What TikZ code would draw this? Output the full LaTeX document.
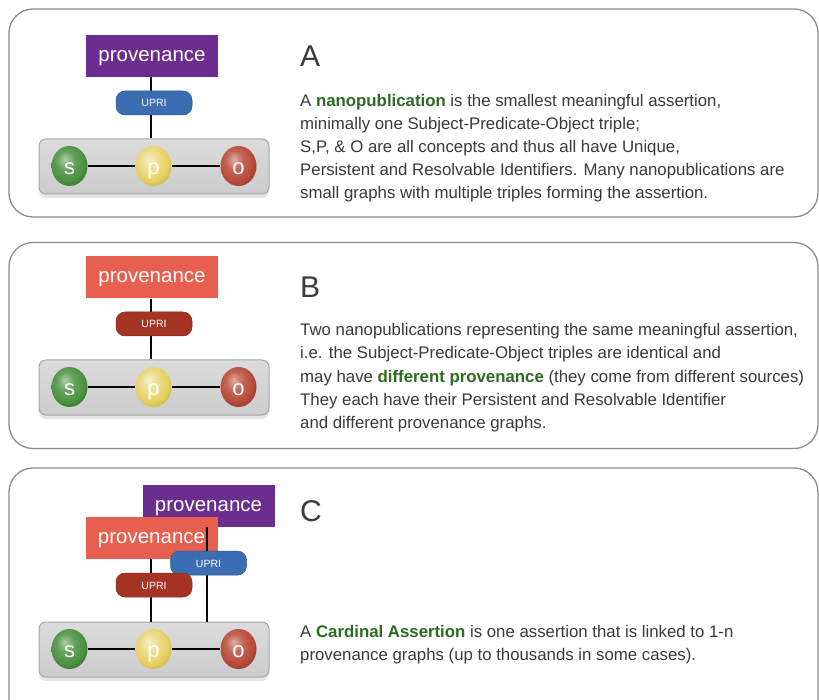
\documentclass[tikz,border=0pt]{standalone}
\usepackage{fontspec}
\setmainfont{Liberation Sans}
\usetikzlibrary{shapes.geometric,shadows,backgrounds}
\definecolor{provpurple}{HTML}{6B2E8E}
\definecolor{provred}{HTML}{E65F4F}
\definecolor{upriblue}{HTML}{3B6DB3}
\definecolor{upridark}{HTML}{A53424}
\definecolor{termgreen}{HTML}{2E6A20}
\definecolor{txtgray}{HTML}{3A3A3A}
\definecolor{panelgray}{HTML}{8C8C8C}
\definecolor{sgreen}{HTML}{4A9140}
\definecolor{pyellow}{HTML}{E6CF5E}
\definecolor{ored}{HTML}{B84A38}
\pgfdeclareradialshading{ballgreen}{\pgfpoint{-7bp}{9bp}}{color(0bp)=(sgreen!45!white); color(12bp)=(sgreen!85!white); color(24bp)=(sgreen); color(32bp)=(sgreen!75!black); color(50bp)=(sgreen!55!black)}
\pgfdeclareradialshading{ballyellow}{\pgfpoint{-7bp}{9bp}}{color(0bp)=(pyellow!35!white); color(12bp)=(pyellow!70!white); color(24bp)=(pyellow); color(32bp)=(pyellow!85!black); color(50bp)=(pyellow!65!black)}
\pgfdeclareradialshading{ballred}{\pgfpoint{-7bp}{9bp}}{color(0bp)=(ored!45!white); color(12bp)=(ored!85!white); color(24bp)=(ored); color(32bp)=(ored!75!black); color(50bp)=(ored!55!black)}
\pgfdeclarelayer{panels}
\pgfdeclarelayer{back}
\pgfdeclarelayer{lines}
\pgfsetlayers{panels,back,lines,main}
\begin{document}
\begin{tikzpicture}[x=1pt,y=-1pt,
  panel/.style={draw=panelgray, line width=1.3pt, fill=white, rounded corners=24pt},
  prov/.style={fill=#1, text=white, minimum width=132pt, minimum height=42pt, inner sep=0pt,
    text height=11pt, text depth=0pt, font=\fontsize{20.5}{24}\selectfont},
  upri/.style={fill=#1, draw=#1!80!black, line width=0.5pt, text=white, rounded corners=9pt,
    minimum width=76pt, minimum height=24pt, inner sep=0pt, text height=8pt, text depth=0pt,
    font=\fontsize{10.5}{12}\selectfont},
  spobox/.style={draw=gray!70, line width=1pt, rounded corners=7pt,
    top color=gray!28, middle color=gray!6, bottom color=gray!40,
    minimum width=230pt, minimum height=55pt, inner sep=0pt,
    drop shadow={opacity=0.2, shadow xshift=0pt, shadow yshift=-4pt}},
  ball/.style={ellipse, shading=#1, minimum width=36pt, minimum height=40pt,
    inner sep=0pt, text=white, text height=17pt, text depth=0pt, font=\fontsize{22}{24}\selectfont},
  link/.style={draw=black, line width=1.3pt},
  head/.style={anchor=base west, inner sep=0pt, text=txtgray, font=\fontsize{30}{34}\selectfont},
  para/.style={anchor=base west, inner sep=0pt, text=txtgray, font=\fontsize{16.8}{20}\selectfont}]
\useasboundingbox (0,0) rectangle (819,700);
\clip (0,0) rectangle (819,700);

% panels
\begin{pgfonlayer}{panels}
\fill[white] (0,0) rectangle (819,700);
\node[panel, minimum width=809pt, minimum height=208pt, inner sep=0pt] (panA) at (413.5,113) {};
\node[panel, minimum width=809pt, minimum height=206pt, inner sep=0pt] (panB) at (413.5,345.5) {};
\draw[panel] (9,468) rectangle (818,740);
\end{pgfonlayer}

% ---------------- A
\begin{pgfonlayer}{back}
\node[prov=provpurple] (provA) at (152,56) {provenance};
\node[spobox] (spoA) at (154,166.5) {};
\end{pgfonlayer}
\node[upri=upriblue] (upriA) at (154,103) {UPRI};
\node[ball=ballgreen] (sA) at (69.5,166) {s};
\node[ball=ballyellow] (pA) at (153.5,166) {p};
\node[ball=ballred] (oA) at (238.5,166) {o};
\begin{pgfonlayer}{lines}
\draw[link] (provA.south -| 151,0) -- (spoA.north -| 151,0);
\draw[link] (sA) -- (pA) -- (oA);
\end{pgfonlayer}

\node[head] (hA) at (300,67) {A};
\node[para] (tA1) at (300,107) {A {\bfseries\color{termgreen}nanopublication} is the smallest meaningful assertion,};
\node[para] (tA2) at (300,130) {minimally one Subject-Predicate-Object triple;};
\node[para] (tA3) at (300,153) {S,P, \& O are all concepts and thus all have Unique,};
\node[para] (tA4) at (300,176) {Persistent and Resolvable Identifiers. Many nanopublications are};
\node[para] (tA5) at (300,199) {small graphs with multiple triples forming the assertion.};

% ---------------- B
\begin{pgfonlayer}{back}
\node[prov=provred] (provB) at (152,277.5) {provenance};
\node[spobox] (spoB) at (154,387.5) {};
\end{pgfonlayer}
\node[upri=upridark] (upriB) at (154,324) {UPRI};
\node[ball=ballgreen] (sB) at (69.5,387) {s};
\node[ball=ballyellow] (pB) at (153.5,387) {p};
\node[ball=ballred] (oB) at (238.5,387) {o};
\begin{pgfonlayer}{lines}
\draw[link] (provB.south -| 151,0) -- (spoB.north -| 151,0);
\draw[link] (sB) -- (pB) -- (oB);
\end{pgfonlayer}

\node[head] (hB) at (300,298) {B};
\node[para] (tB1) at (300,336) {Two nanopublications representing the same meaningful assertion,};
\node[para] (tB2) at (300,359) {i.e. the Subject-Predicate-Object triples are identical and};
\node[para] (tB3) at (300,382) {may have {\bfseries\color{termgreen}different provenance} (they come from different sources)};
\node[para] (tB4) at (300,405) {They each have their Persistent and Resolvable Identifier};
\node[para] (tB5) at (300,428) {and different provenance graphs.};

% ---------------- C
\begin{pgfonlayer}{back}
\node[prov=provpurple] (provC1) at (208.5,505.5) {provenance};
\node[prov=provred] (provC2) at (151.5,538) {provenance};
\node[spobox] (spoC) at (154,649.5) {};
\end{pgfonlayer}
\node[upri=upriblue] (upriC1) at (208.5,563) {UPRI};
\node[upri=upridark] (upriC2) at (154,585) {UPRI};
\node[ball=ballgreen] (sC) at (69.5,649) {s};
\node[ball=ballyellow] (pC) at (153.5,649) {p};
\node[ball=ballred] (oC) at (238.5,649) {o};
\begin{pgfonlayer}{lines}
\draw[link] (provC1.south -| 207,0) -- (spoC.north -| 207,0);
\draw[link] (provC2.south -| 151,0) -- (spoC.north -| 151,0);
\draw[link] (sC) -- (pC) -- (oC);
\end{pgfonlayer}

\node[head] (hC) at (300,521) {C};
\node[para] (tC1) at (300,637) {A {\bfseries\color{termgreen}Cardinal Assertion} is one assertion that is linked to 1-n};
\node[para] (tC2) at (300,660) {provenance graphs (up to thousands in some cases).};
\end{tikzpicture}
\end{document}
